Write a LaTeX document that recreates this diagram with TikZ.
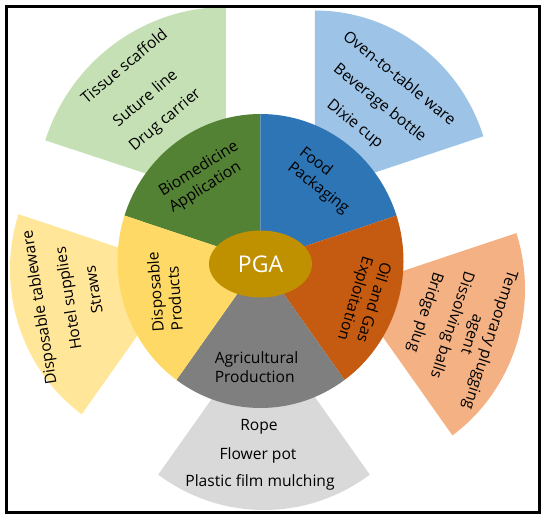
\documentclass[tikz,border=0pt]{standalone}
\usepackage{fontspec}
\setmainfont{Open Sans}
\usetikzlibrary{shapes.geometric}
\definecolor{bioDark}{HTML}{548235}
\definecolor{bioLight}{HTML}{C5E0B4}
\definecolor{foodDark}{HTML}{2E75B6}
\definecolor{foodLight}{HTML}{9DC3E6}
\definecolor{oilDark}{HTML}{C55A11}
\definecolor{oilLight}{HTML}{F4B183}
\definecolor{agriDark}{HTML}{7F7F7F}
\definecolor{agriLight}{HTML}{D9D9D9}
\definecolor{dispDark}{HTML}{FFD966}
\definecolor{dispLight}{HTML}{FFE699}
\definecolor{pgaGold}{HTML}{BF9000}
\tikzset{
  sector/.style={font=\fontsize{15.6}{19}\selectfont, align=left, inner sep=0pt},
  usage/.style={font=\fontsize{15.6}{19}\selectfont, align=center, inner sep=0pt},
}

\begin{document}
\begin{tikzpicture}[x=1pt,y=1pt]
\useasboundingbox (-260.5,-263) rectangle (289.5,261);
% outer slices, shifted out
\foreach \ax/\ay/\s/\rx/\ry/\col in {-34.5/61/90/190/193/bioLight,
  54.5/68.5/18/177/182/foodLight, 88.5/-28/-54/176/181/oilLight,
  3.5/-64/-126/180/185/agriLight, -76.5/-8.5/162/174/179/dispLight}
{
  \fill[\col] (\ax,\ay) -- ++(\s:\rx pt and \ry pt)
    arc[start angle=\s, delta angle=72, x radius=\rx pt, y radius=\ry pt] -- cycle;
}
% inner pie
\foreach \s/\col in {90/bioDark, 18/foodDark, -54/oilDark, -126/agriDark, 162/dispDark}
{
  \fill[\col] (0,0) -- (\s:143pt and 147pt)
    arc[start angle=\s, delta angle=72, x radius=143pt, y radius=147pt] -- cycle;
}
\node[ellipse, fill=pgaGold, minimum width=103pt, minimum height=67pt, inner sep=0pt,
  text=white, font=\fontsize{23}{27}\selectfont] (pga) at (0,-3) {PGA};

\node[sector, rotate=32]   (bio)  at (-56.5,83.5) {Biomedicine\\Application};
\node[sector, rotate=-38]  (food) at (63.5,80)    {Food\\Packaging};
\node[sector, rotate=-107] (oil)  at (103,-40)    {Oil and Gas\\Exploitation};
\node[sector]              (agri) at (-4,-106)    {Agricultural\\Production};
\node[sector, rotate=94]   (disp) at (-95.8,-30.3) {Disposable\\Products};

\node[usage, rotate=40] (tissue) at (-136.8,195.2) {Tissue scaffold};
\node[usage, rotate=40] (suture) at (-116,163.2)   {Suture line};
\node[usage, rotate=40] (drug)   at (-95,140.7)    {Drug carrier};

\node[usage, rotate=-39] (oven)     at (139.5,183.5) {Oven-to-table ware};
\node[usage, rotate=-39] (beverage) at (119,157.5)   {Beverage bottle};
\node[usage, rotate=-39] (dixie)    at (94,136.5)    {Dixie cup};

\node[usage, rotate=-108] (temp)   at (220,-76)   {Temporary plugging\\agent};
\node[usage, rotate=-108] (balls)  at (191,-64)   {Dissolving balls};
\node[usage, rotate=-108] (bridge) at (164.5,-51) {Bridge plug};

\node[usage] (rope)   at (-1.5,-166) {Rope};
\node[usage] (pot)    at (-2.5,-194) {Flower pot};
\node[usage] (mulch)  at (-0.5,-221) {Plastic film mulching};

\node[usage, rotate=99] (tableware) at (-220,-46.5) {Disposable tableware};
\node[usage, rotate=99] (hotel)     at (-191,-37)   {Hotel supplies};
\node[usage, rotate=99] (straws)    at (-167,-28.5) {Straws};

\draw[line width=3pt] (-254,254) rectangle (279.5,-252);
\end{tikzpicture}
\end{document}
